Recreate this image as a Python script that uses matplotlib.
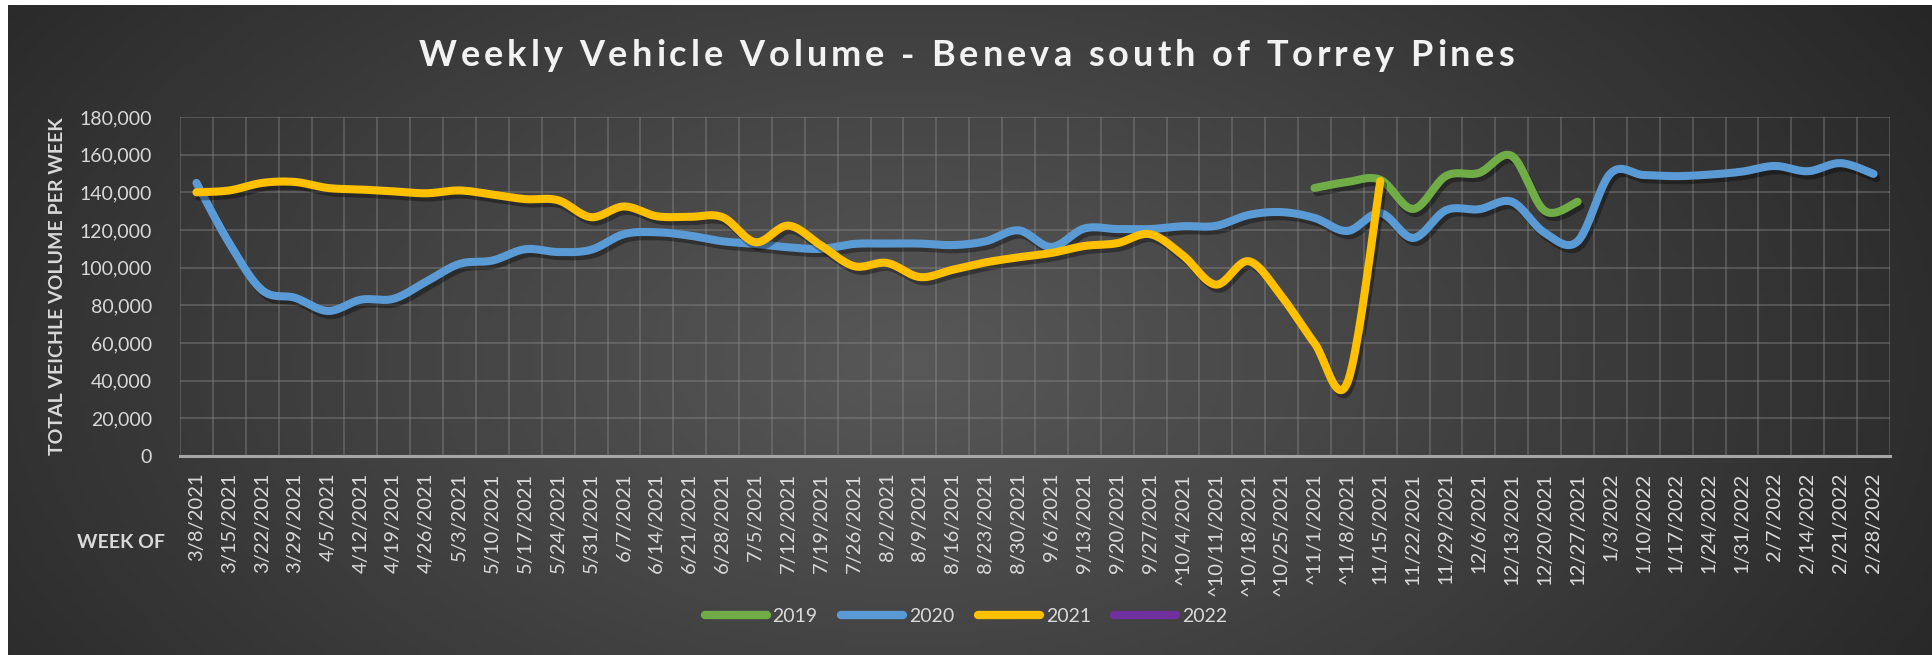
import numpy as np
import matplotlib.pyplot as plt
import matplotlib.patheffects as pe

plt.rcParams['font.family'] = ['Lato', 'DejaVu Sans']

weeks = ['3/8/2021', '3/15/2021', '3/22/2021', '3/29/2021', '4/5/2021', '4/12/2021',
         '4/19/2021', '4/26/2021', '5/3/2021', '5/10/2021', '5/17/2021', '5/24/2021',
         '5/31/2021', '6/7/2021', '6/14/2021', '6/21/2021', '6/28/2021', '7/5/2021',
         '7/12/2021', '7/19/2021', '7/26/2021', '8/2/2021', '8/9/2021', '8/16/2021',
         '8/23/2021', '8/30/2021', '9/6/2021', '9/13/2021', '9/20/2021', '9/27/2021',
         '^10/4/2021', '^10/11/2021', '^10/18/2021', '^10/25/2021', '^11/1/2021',
         '^11/8/2021', '11/15/2021', '11/22/2021', '11/29/2021', '12/6/2021',
         '12/13/2021', '12/20/2021', '12/27/2021', '1/3/2022', '1/10/2022', '1/17/2022',
         '1/24/2022', '1/31/2022', '2/7/2022', '2/14/2022', '2/21/2022', '2/28/2022']

N = None
vol_2019 = [N] * 34 + [142300, 145500, 146700, 131200, 148700, 150300, 159300,
                       130200, 135000] + [N] * 9
vol_2020 = [145000, 113000, 88000, 84000, 77000, 83000, 83500, 92700, 102000, 103800,
            109800, 108300, 109500, 117800, 118800, 117000, 114000, 112600, 110800,
            110000, 112600, 112800, 112800, 112000, 114000, 119800, 111000, 120800,
            120500, 120500, 122000, 122200, 128000, 129500, 126400, 119500, 129000,
            115800, 130500, 131000, 135000, 118500, 114000, 150000, 149200, 148600,
            149400, 151000, 154000, 151200, 155500, 149800]
vol_2021 = [140000, 141000, 145000, 145500, 142300, 141500, 140500, 139500, 141000,
            138800, 136400, 135800, 126800, 132500, 127300, 127000, 126800, 113500,
            122300, 111700, 100800, 102500, 95000, 98900, 102800, 105500, 107800,
            111500, 113000, 117800, 106500, 91000, 103400, 84700, 59900, 39000,
            146000] + [N] * 15
vol_2022 = [N] * 52

years = ['2019', '2020', '2021', '2022']
colors = ['#70AD47', '#5B9BD5', '#FFC000', '#7030A0']
title = 'Weekly Vehicle Volume - Beneva south of Torrey Pines'


def smooth(x, y, n=24):
    # excel style smoothed line (catmull-rom as bezier)
    x = np.asarray(x, float)
    y = np.asarray(y, float)
    if len(x) < 2:
        return x, y
    xs, ys = [], []
    t = np.linspace(0, 1, n)[:, None]
    P = np.column_stack([x, y])
    for k in range(len(P) - 1):
        p0 = P[k - 1] if k > 0 else P[k]
        p1, p2 = P[k], P[k + 1]
        p3 = P[k + 2] if k + 2 < len(P) else P[k + 1]
        c1 = p1 + (p2 - p0) / 6
        c2 = p2 - (p3 - p1) / 6
        b = ((1 - t) ** 3) * p1 + 3 * ((1 - t) ** 2) * t * c1 + 3 * (1 - t) * t ** 2 * c2 + t ** 3 * p2
        xs.append(b[:, 0])
        ys.append(b[:, 1])
    return np.concatenate(xs), np.concatenate(ys)


def spaced_text(fig, xc, y, s, track, **kw):
    # text with extra letter spacing (px), centred on xc (figure fraction)
    r = fig.canvas.get_renderer()
    W = fig.bbox.width
    pref = []
    for k in range(len(s) + 1):
        tmp = fig.text(0, 0, s[:k] + '|', **kw)
        bar = fig.text(0, 0, '|', **kw)
        pref.append(tmp.get_window_extent(r).width - bar.get_window_extent(r).width)
        tmp.remove()
        bar.remove()
    total = pref[-1] + track * (len(s) - 1)
    x0 = xc * W - total / 2
    for k, ch in enumerate(s):
        if ch != ' ':
            fig.text((x0 + pref[k] + track * k) / W, y, ch, ha='left', **kw)


fig = plt.figure(figsize=(19.33, 6.55), dpi=100, facecolor='white')

# dark radial background
bg = fig.add_axes([8 / 1933, 0, 1 - 8 / 1933, 1 - 5 / 655])
gx, gy = np.meshgrid(np.linspace(0, 1, 400), np.linspace(0, 1, 140))
d = np.sqrt(((gx - 0.47) / 0.62) ** 2 + ((gy - 0.55) / 1.1) ** 2)
d = np.clip(d, 0, 1)
c0, c1 = 0x58 / 255, 0x26 / 255
shade = c0 - (c0 - c1) * d
bg.imshow(np.dstack([shade, shade, shade]), aspect='auto', extent=[0, 1, 0, 1])
bg.axis('off')

ax = fig.add_axes([180 / 1933, 199 / 655, 1710 / 1933, 339 / 655])
ax.patch.set_alpha(0)

for yr, vals, col in zip(years, [vol_2019, vol_2020, vol_2021, vol_2022], colors):
    v = np.array([np.nan if a is None else a for a in vals], float)
    idx = np.where(~np.isnan(v))[0]
    if len(idx):
        sx, sy = smooth(idx, v[idx])
    else:
        sx, sy = [], []
    ax.plot(sx, sy, color=col, lw=5.8, solid_capstyle='round', label=yr, zorder=3,
            path_effects=[pe.SimpleLineShadow(offset=(2, -3), shadow_color='black', alpha=0.35),
                          pe.Normal()])

ax.set_xlim(-0.5, len(weeks) - 0.5)
ax.set_ylim(0, 180000)
ax.set_yticks(np.arange(0, 180001, 20000))
ax.set_yticklabels([f'{v:,}' for v in range(0, 180001, 20000)])
ax.set_xticks(np.arange(len(weeks)))
ax.set_xticklabels(weeks, rotation=90)
ax.set_xticks(np.arange(-0.5, len(weeks), 1), minor=True)
ax.tick_params(axis='both', which='both', length=0, colors='#d9d9d9')
ax.tick_params(axis='y', pad=20, labelsize=14)
ax.tick_params(axis='x', pad=12, labelsize=14.5)
ax.grid(True, axis='y', which='major', color='#8c8c8c', alpha=0.45, lw=1.2)
ax.grid(True, axis='x', which='minor', color='#8c8c8c', alpha=0.45, lw=1.2)
for s in ['top', 'right', 'left']:
    ax.spines[s].set_visible(False)
ax.spines['bottom'].set_color('#a6a6a6')
ax.spines['bottom'].set_linewidth(2.2)
ax.spines['bottom'].set_zorder(4)

ax.set_ylabel('TOTAL VEICHLE VOLUME PER WEEK', color='#d9d9d9', fontsize=14,
              fontweight='bold')
ax.yaxis.set_label_coords(-114 / 1710, 0.5)

spaced_text(fig, 966 / 1933, 1 - 56 / 655, title, 4.0, va='center',
            color='#f2f2f2', fontsize=26, fontweight='bold')
fig.text(121 / 1933, 1 - 542 / 655, 'WEEK OF', ha='center', va='center',
         color='#d9d9d9', fontsize=14, fontweight='bold')

leg = ax.legend(loc='center', bbox_to_anchor=(966 / 1933, 1 - 616 / 655),
                bbox_transform=fig.transFigure, ncol=4, frameon=False,
                fontsize=14, handlelength=3.2, columnspacing=1.2, handletextpad=0.3)
for t in leg.get_texts():
    t.set_color('#d9d9d9')
for h in leg.get_lines():
    h.set_path_effects([])
    h.set_linewidth(6)

fig.savefig('out.png', dpi=100, facecolor=fig.get_facecolor())
